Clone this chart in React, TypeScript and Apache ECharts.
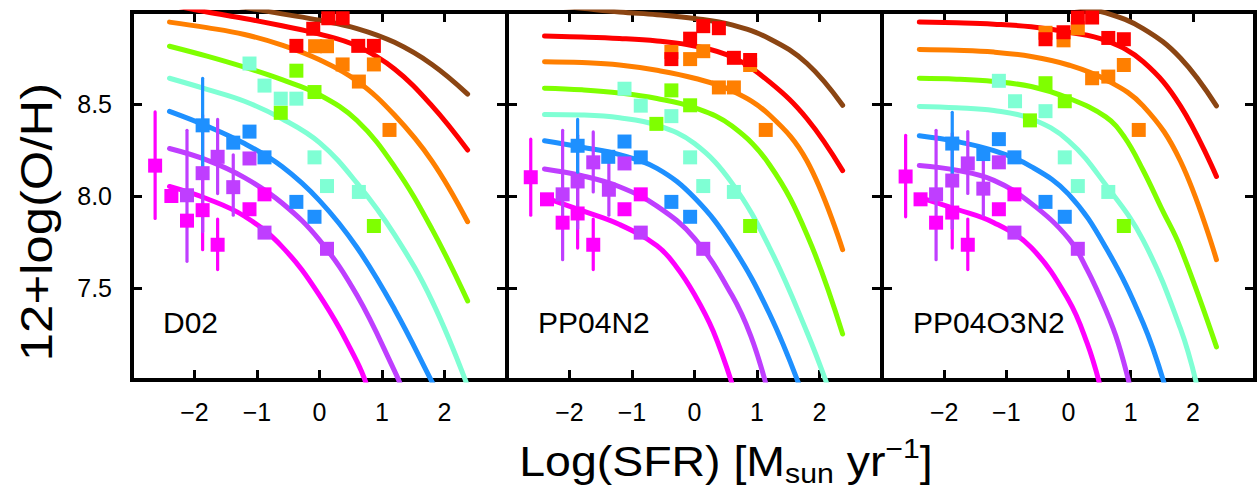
import React, { useEffect, useRef } from "react";
import * as echarts from "echarts";

// ---------- tick labels ----------
const xTickValues = [-2, -1, 0, 1, 2];
const yTickValues = [7.5, 8.0, 8.5];
const panelNames = ["D02", "PP04N2", "PP04O3N2"];
const yTitle = "12+log(O/H)";
const xTitleParts = ["Log(SFR) [M", "sun", " yr", "\u22121", "]"];

// ---------- colours (one per track / bin) ----------
const binNames = ["magenta", "purple", "blue", "aqua", "green", "orange", "red", "brown"];
const binColors = ["#FF00FF", "#BF3EFF", "#1E90FF", "#7FFFD4", "#7FFF00", "#FF7F00", "#FF0000", "#8B4513"];

// ---------- D02 model curves [logSFR, 12+log(O/H)] ----------
const d02Magenta = [[-2.4, 8.052], [-1.8, 7.985], [-1.2, 7.89], [-0.6, 7.725], [0, 7.46], [0.6, 7.1], [0.8, 6.93]];
const d02Purple = [[-2.4, 8.258], [-1.8, 8.195], [-1.2, 8.1], [-0.6, 7.962], [0, 7.76], [0.6, 7.46], [1.2, 7.05], [1.35, 6.93]];
const d02Blue = [[-2.4, 8.46], [-1.8, 8.38], [-1.2, 8.285], [-0.6, 8.16], [0, 7.975], [0.6, 7.72], [1.2, 7.385], [1.8, 6.99], [1.9, 6.92]];
const d02Aqua = [[-2.4, 8.64], [-1.8, 8.58], [-1.2, 8.515], [-0.6, 8.42], [0, 8.29], [0.6, 8.07], [1.2, 7.79], [1.8, 7.43], [2.4, 6.94]];
const d02Green = [[-2.4, 8.814], [-1.8, 8.76], [-1.2, 8.7], [-0.6, 8.632], [0, 8.55], [0.6, 8.41], [1.2, 8.16], [1.8, 7.82], [2.37, 7.43]];
const d02Orange = [[-2.4, 8.945], [-1.8, 8.915], [-1.2, 8.878], [-0.6, 8.82], [0, 8.74], [0.6, 8.625], [1.2, 8.44], [1.8, 8.19], [2.37, 7.86]];
const d02Red = [[-2.4, 9.04], [-1.8, 9.0], [-1.2, 8.965], [-0.6, 8.925], [0, 8.88], [0.6, 8.815], [1.2, 8.69], [1.8, 8.49], [2.37, 8.25]];
const d02Brown = [[-2.4, 9.09], [-1.8, 9.06], [-1.2, 9.025], [-0.6, 8.99], [0, 8.955], [0.6, 8.91], [1.2, 8.835], [1.8, 8.715], [2.37, 8.554]];

// ---------- PP04N2 model curves ----------
const pn2Magenta = [[-2.4, 7.992], [-1.8, 7.92], [-1.2, 7.845], [-0.6, 7.73], [-0.3, 7.62], [0, 7.465], [0.3, 7.265], [0.62, 6.96]];
const pn2Purple = [[-2.4, 8.147], [-1.8, 8.11], [-1.2, 8.05], [-0.6, 7.945], [0, 7.77], [0.6, 7.46], [0.9, 7.24], [1.15, 6.97]];
const pn2Blue = [[-2.4, 8.3], [-1.8, 8.265], [-1.2, 8.225], [-0.6, 8.15], [0, 7.99], [0.6, 7.73], [1.2, 7.36], [1.7, 6.95]];
const pn2Aqua = [[-2.4, 8.443], [-1.8, 8.44], [-1.2, 8.425], [-0.6, 8.385], [0, 8.285], [0.6, 8.07], [1.2, 7.72], [1.8, 7.26], [2.15, 6.95]];
const pn2Green = [[-2.4, 8.586], [-1.8, 8.577], [-1.2, 8.56], [-0.6, 8.53], [0, 8.48], [0.6, 8.38], [1.2, 8.17], [1.8, 7.79], [2.37, 7.25]];
const pn2Orange = [[-2.4, 8.73], [-1.8, 8.725], [-1.2, 8.712], [-0.6, 8.683], [0, 8.64], [0.6, 8.572], [1.2, 8.44], [1.8, 8.19], [2.37, 7.708]];
const pn2Red = [[-2.4, 8.869], [-1.8, 8.864], [-1.2, 8.856], [-0.6, 8.842], [0, 8.815], [0.6, 8.755], [1.2, 8.62], [1.8, 8.42], [2.37, 8.138]];
const pn2Brown = [[-2.4, 9.04], [-1.8, 9.02], [-1.2, 9.0], [-0.6, 8.985], [0, 8.965], [0.6, 8.93], [1.2, 8.855], [1.8, 8.72], [2.37, 8.493]];

// ---------- PP04O3N2 model curves ----------
const o3Magenta = [[-2.4, 7.993], [-1.8, 7.928], [-1.2, 7.855], [-0.6, 7.72], [0, 7.435], [0.3, 7.2], [0.5, 6.98]];
const o3Purple = [[-2.4, 8.166], [-1.8, 8.14], [-1.2, 8.085], [-0.6, 7.96], [0, 7.77], [0.3, 7.6], [0.6, 7.38], [0.8, 7.2], [1.0, 6.95]];
const o3Blue = [[-2.4, 8.327], [-1.8, 8.296], [-1.2, 8.246], [-0.6, 8.16], [0, 8.01], [0.6, 7.72], [1.2, 7.31], [1.55, 6.97]];
const o3Aqua = [[-2.4, 8.487], [-1.8, 8.48], [-1.2, 8.465], [-0.6, 8.42], [0, 8.3], [0.6, 8.06], [1.2, 7.76], [1.8, 7.28], [2.08, 6.95]];
const o3Green = [[-2.4, 8.64], [-1.8, 8.635], [-1.2, 8.622], [-0.6, 8.595], [0, 8.532], [0.6, 8.43], [0.9, 8.32], [1.2, 8.14], [1.5, 7.93], [1.8, 7.72], [2.38, 7.18]];
const o3Orange = [[-2.4, 8.796], [-1.8, 8.792], [-1.2, 8.782], [-0.6, 8.758], [0, 8.712], [0.6, 8.632], [1.2, 8.49], [1.8, 8.19], [2.38, 7.654]];
const o3Red = [[-2.4, 8.945], [-1.8, 8.941], [-1.2, 8.934], [-0.6, 8.92], [0, 8.89], [0.6, 8.845], [1.2, 8.73], [1.8, 8.49], [2.38, 8.106]];
const o3Brown = [[-2.4, 9.12], [-1.8, 9.105], [-1.2, 9.085], [-0.6, 9.06], [0, 9.035], [0.6, 8.995], [1.2, 8.91], [1.8, 8.75], [2.38, 8.49]];

// ---------- D02 measured points ----------
const d02PtsMagenta = [[-2.63, 8.165], [-2.37, 8.0], [-2.12, 7.866], [-1.87, 7.923], [-1.63, 7.735], [-1.12, 7.928], [-0.88, 8.009]];
const d02PtsPurple = [[-2.12, 8.004], [-1.87, 8.124], [-1.63, 8.213], [-1.38, 8.048], [-1.12, 8.204], [-0.88, 7.801], [0.12, 7.713]];
const d02PtsBlue = [[-1.87, 8.384], [-1.38, 8.29], [-1.12, 8.35], [-0.88, 8.21], [-0.37, 7.968], [-0.08, 7.887]];
const d02PtsAqua = [[-1.12, 8.72], [-0.88, 8.6], [-0.62, 8.529], [-0.37, 8.529], [-0.08, 8.21], [0.12, 8.054], [0.63, 8.022]];
const d02PtsGreen = [[-0.37, 8.681], [-0.08, 8.565], [-0.62, 8.452], [0.87, 7.837]];
const d02PtsOrange = [[-0.07, 8.814], [0.12, 8.814], [0.37, 8.715], [0.87, 8.715], [0.63, 8.622], [1.12, 8.359]];
const d02PtsRed = [[-0.1, 8.909], [0.14, 8.966], [0.37, 8.966], [-0.37, 8.816], [0.62, 8.816], [0.87, 8.816]];

// ---------- PP04N2 measured points ----------
const pn2PtsMagenta = [[-2.62, 8.102], [-2.36, 7.982], [-2.11, 7.855], [-1.87, 7.905], [-1.62, 7.735], [-1.12, 7.928], [-0.86, 8.009]];
const pn2PtsPurple = [[-2.11, 8.009], [-1.87, 8.079], [-1.62, 8.183], [-1.37, 8.034], [-1.12, 8.177], [-0.86, 7.801], [0.14, 7.713]];
const pn2PtsBlue = [[-1.87, 8.273], [-1.38, 8.213], [-1.12, 8.296], [-0.86, 8.21], [-0.37, 7.968], [-0.07, 7.887]];
const pn2PtsAqua = [[-1.12, 8.583], [-0.86, 8.491], [-0.37, 8.434], [-0.07, 8.21], [0.14, 8.054], [0.63, 8.022]];
const pn2PtsGreen = [[-0.37, 8.574], [-0.07, 8.493], [-0.61, 8.392], [0.89, 7.837]];
const pn2PtsOrange = [[-0.37, 8.783], [-0.07, 8.744], [0.14, 8.787], [0.89, 8.712], [0.39, 8.59], [0.63, 8.59], [1.14, 8.359]];
const pn2PtsRed = [[0.14, 8.923], [0.39, 8.912], [-0.07, 8.855], [-0.37, 8.744], [0.63, 8.751], [0.89, 8.739]];

// ---------- PP04O3N2 measured points ----------
const o3PtsMagenta = [[-2.62, 8.106], [-2.38, 7.982], [-2.13, 7.855], [-1.87, 7.91], [-1.62, 7.735], [-1.12, 7.928], [-0.87, 8.009]];
const o3PtsPurple = [[-2.13, 8.009], [-1.87, 8.084], [-1.62, 8.177], [-1.37, 8.04], [-1.12, 8.183], [-0.87, 7.801], [0.15, 7.713]];
const o3PtsBlue = [[-1.87, 8.285], [-1.37, 8.228], [-1.12, 8.309], [-0.87, 8.21], [-0.37, 7.968], [-0.06, 7.887]];
const o3PtsAqua = [[-1.12, 8.626], [-0.86, 8.515], [-0.37, 8.461], [-0.06, 8.21], [0.15, 8.054], [0.64, 8.022]];
const o3PtsGreen = [[-0.37, 8.613], [-0.06, 8.515], [-0.62, 8.411], [0.89, 7.837]];
const o3PtsOrange = [[-0.37, 8.887], [0.15, 8.912], [-0.08, 8.846], [0.89, 8.712], [0.38, 8.64], [0.64, 8.649], [1.13, 8.359]];
const o3PtsRed = [[0.15, 8.97], [0.38, 8.97], [-0.08, 8.89], [-0.37, 8.852], [0.64, 8.859], [0.89, 8.852]];

// ---------- error bars [logSFR, low, high] ----------
const d02ErrMagenta = [[-2.63, 7.878, 8.457], [-1.87, 7.708, 8.14], [-1.63, 7.6, 7.875]];
const d02ErrPurple = [[-2.12, 7.645, 8.357], [-1.87, 7.806, 8.44], [-1.63, 8.013, 8.416], [-1.38, 7.896, 8.224]];
const d02ErrBlue = [[-1.87, 8.133, 8.64]];
const pn2ErrMagenta = [[-2.62, 7.896, 8.309], [-1.87, 7.717, 8.1], [-1.62, 7.6, 7.875]];
const pn2ErrPurple = [[-2.11, 7.654, 8.357], [-1.87, 7.825, 8.33], [-1.62, 8.022, 8.348], [-1.37, 7.896, 8.183]];
const pn2ErrBlue = [[-1.87, 8.129, 8.416]];
const o3ErrMagenta = [[-2.62, 7.887, 8.33], [-1.87, 7.717, 8.1], [-1.62, 7.6, 7.875]];
const o3ErrPurple = [[-2.13, 7.654, 8.357], [-1.87, 7.825, 8.34], [-1.62, 8.014, 8.35], [-1.37, 7.896, 8.19]];
const o3ErrBlue = [[-1.87, 8.12, 8.455]];

const panelCurves = [
  [d02Magenta, d02Purple, d02Blue, d02Aqua, d02Green, d02Orange, d02Red, d02Brown],
  [pn2Magenta, pn2Purple, pn2Blue, pn2Aqua, pn2Green, pn2Orange, pn2Red, pn2Brown],
  [o3Magenta, o3Purple, o3Blue, o3Aqua, o3Green, o3Orange, o3Red, o3Brown],
];
const panelPoints = [
  [d02PtsMagenta, d02PtsPurple, d02PtsBlue, d02PtsAqua, d02PtsGreen, d02PtsOrange, d02PtsRed],
  [pn2PtsMagenta, pn2PtsPurple, pn2PtsBlue, pn2PtsAqua, pn2PtsGreen, pn2PtsOrange, pn2PtsRed],
  [o3PtsMagenta, o3PtsPurple, o3PtsBlue, o3PtsAqua, o3PtsGreen, o3PtsOrange, o3PtsRed],
];
const panelErrors = [
  [d02ErrMagenta, d02ErrPurple, d02ErrBlue],
  [pn2ErrMagenta, pn2ErrPurple, pn2ErrBlue],
  [o3ErrMagenta, o3ErrPurple, o3ErrBlue],
];

const FONT = "'Liberation Sans', Arial, Helvetica, sans-serif";

function fmtX(v: number) {
  if (!xTickValues.includes(Math.round(v * 1000) / 1000)) return "";
  return v < 0 ? "\u2212" + Math.abs(v) : String(v);
}
function fmtY(v: number) {
  const r = Math.round(v * 100) / 100;
  if (!yTickValues.includes(r)) return "";
  return r.toFixed(1);
}

function measure(text: string, size: number) {
  const c = document.createElement("canvas").getContext("2d");
  if (!c) return text.length * size * 0.55;
  c.font = size + "px " + FONT;
  return c.measureText(text).width;
}

export default function App() {
  const ref = useRef<HTMLDivElement>(null);
  useEffect(() => {
    if (!ref.current) return;
    const chart = echarts.init(ref.current, null, { renderer: "svg" });
    const grids = [
      { left: 132, top: 12, width: 375, height: 368 },
      { left: 507, top: 12, width: 375, height: 368 },
      { left: 882, top: 12, width: 373, height: 368 },
    ];
    const frame = { show: true, onZero: false, lineStyle: { color: "#000", width: 4, cap: "square" } };
    const tick = { show: true, inside: true, length: 10, lineStyle: { color: "#000", width: 3 } };
    const xAxis: any[] = [];
    const yAxis: any[] = [];
    grids.forEach((_, g) => {
      xAxis.push({
        gridIndex: g, type: "value", min: -3, max: 3, interval: 1, position: "bottom",
        axisLine: frame, axisTick: tick, splitLine: { show: false },
        axisLabel: { show: true, formatter: fmtX, fontSize: 25, color: "#000", fontFamily: FONT, margin: 19 },
      });
      xAxis.push({
        gridIndex: g, type: "value", min: -3, max: 3, interval: 1, position: "top",
        axisLine: frame, axisTick: tick, splitLine: { show: false }, axisLabel: { show: false },
      });
      yAxis.push({
        gridIndex: g, type: "value", min: 7, max: 9, interval: 0.5, position: "left",
        axisLine: frame, axisTick: tick, splitLine: { show: false },
        axisLabel: { show: g === 0, formatter: fmtY, fontSize: 25, color: "#000", fontFamily: FONT, margin: 20 },
      });
      yAxis.push({
        gridIndex: g, type: "value", min: 7, max: 9, interval: 0.5, position: "right",
        axisLine: frame, axisTick: tick, splitLine: { show: false }, axisLabel: { show: false },
      });
    });

    const series: any[] = [];
    panelCurves.forEach((curves, g) => {
      curves.forEach((c, i) => {
        series.push({
          type: "line", name: panelNames[g] + "-" + binNames[i], xAxisIndex: 2 * g, yAxisIndex: 2 * g,
          data: c, smooth: 0.4, showSymbol: false, clip: true, z: 2,
          lineStyle: { color: binColors[i], width: 5, cap: "round", join: "round" },
        });
      });
    });
    panelErrors.forEach((errs, g) => {
      errs.forEach((e, i) => {
        const color = binColors[i];
        series.push({
          type: "custom", xAxisIndex: 2 * g, yAxisIndex: 2 * g, z: 3, clip: true,
          data: e, encode: { x: 0, y: [1, 2] },
          renderItem: (params: any, api: any) => {
            const p1 = api.coord([api.value(0), api.value(1)]);
            const p2 = api.coord([api.value(0), api.value(2)]);
            return {
              type: "line",
              shape: { x1: p1[0], y1: p1[1], x2: p2[0], y2: p2[1] },
              style: { stroke: color, lineWidth: 3.2, lineCap: "round" },
            };
          },
        });
      });
    });
    panelPoints.forEach((pts, g) => {
      pts.forEach((p, i) => {
        series.push({
          type: "scatter", xAxisIndex: 2 * g, yAxisIndex: 2 * g, z: 4,
          data: p, symbol: "rect", symbolSize: 14,
          itemStyle: { color: binColors[i], opacity: 1 },
        });
      });
    });

    // x title pieces laid out side by side
    const mainF = 43;
    const smallF = 28;
    const sizes = [mainF, smallF, mainF, smallF, mainF];
    const baselines = [476, 483, 476, 458, 476];
    const widths = xTitleParts.map((t, k) => measure(t, sizes[k]));
    const total = widths.reduce((a, b) => a + b, 0);
    let cx = -total / 2;
    const xTitleChildren = xTitleParts.map((t, k) => {
      const el = {
        type: "text", x: cx, y: baselines[k] - 0.35 * sizes[k],
        style: { text: t, font: sizes[k] + "px " + FONT, fill: "#000", textAlign: "left", textVerticalAlign: "middle" },
      };
      cx += widths[k];
      return el;
    });

    const graphic: any[] = [
      {
        type: "text", x: 37, y: 222, rotation: Math.PI / 2, scaleX: 1.13, z: 10,
        style: { text: yTitle, font: "45px " + FONT, fill: "#000", textAlign: "center", textVerticalAlign: "middle" },
      },
      { type: "group", x: 726, y: 0, scaleX: 1.08, z: 10, children: xTitleChildren },
    ];
    const labelX = [163, 538, 913];
    panelNames.forEach((n, g) => {
      graphic.push({
        type: "text", x: labelX[g], y: 322, z: 10,
        style: { text: n, font: "30px " + FONT, fill: "#000", textAlign: "left", textVerticalAlign: "middle" },
      });
    });

    chart.setOption({
      animation: false,
      backgroundColor: "#fff",
      grid: grids,
      xAxis,
      yAxis,
      series,
      graphic,
    });
    return () => chart.dispose();
  }, []);
  return <div ref={ref} style={{ position: "absolute", left: 0, top: 0, width: 1259, height: 490 }} />;
}
